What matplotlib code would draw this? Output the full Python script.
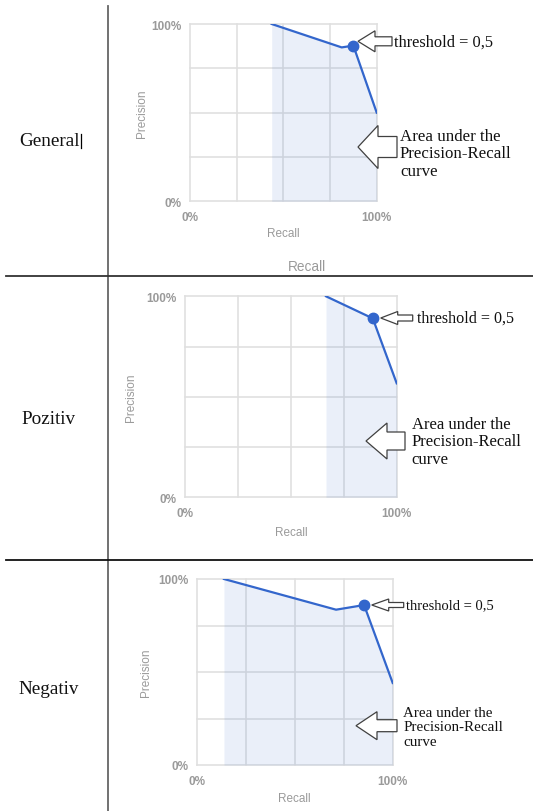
import matplotlib
matplotlib.use('Agg')
import matplotlib.pyplot as plt
from matplotlib.patches import Polygon

W, H = 533, 812

# precision-recall curves
row_labels = ['General', 'Pozitiv', 'Negativ']
general_recall = [0.4375, 0.8125, 0.875, 1.0]
general_precision = [1.0, 0.868, 0.878, 0.5]
pozitiv_recall = [0.666, 0.887, 1.0]
pozitiv_precision = [1.0, 0.89, 0.567]
negativ_recall = [0.139, 0.711, 0.854, 1.0]
negativ_precision = [1.0, 0.835, 0.860, 0.441]
threshold_index = [2, 1, 2]
tick_labels = ['0%', '', '', '', '100%']
threshold_text = 'threshold = 0,5'
area_text = 'Area under the\nPrecision-Recall\ncurve'

curves = [(general_recall, general_precision),
          (pozitiv_recall, pozitiv_precision),
          (negativ_recall, negativ_precision)]

# pixel layout: axes box (left, top, right, bottom)
boxes = [(190, 25, 376.7, 202.3), (185, 297.3, 396.7, 498.3), (196.7, 580, 392.7, 766)]
ylabel_x = [142, 130.7, 146]
xlabel_y = [234, 533, 799]
label_y = [141.7, 420, 690]
label_x = [19, 21.7, 18.3]
# block arrows: tip x, y, total length, head length, head height, shaft height
thr_arrows = [(358, 42.3, 34, 17, 21, 9), (380.7, 319, 32, 17, 13, 6), (371.7, 606, 32, 17, 12, 5)]
area_arrows = [(358, 148, 39, 20, 43, 21), (366, 442, 39, 21, 36, 18), (356, 726.7, 41, 21, 28, 12)]
thr_text_pos = [(394, 42.3, 11.8), (416.7, 319, 11.6), (406, 606, 10.5)]
area_text_pos = [(400, 154.5, 12.2, 1.15), (411.7, 442.5, 12.0, 1.15), (403.3, 728, 10.8, 1.17)]

serif = ['Liberation Serif', 'DejaVu Serif']
sans = ['Liberation Sans', 'DejaVu Sans']
gray = '#9a9a9a'
blue = '#3366cc'

fig = plt.figure(figsize=(W / 100, H / 100), dpi=100)

for i, (rec, prec) in enumerate(curves):
    l, t, r, b = boxes[i]
    ax = fig.add_axes([l / W, 1 - b / H, (r - l) / W, (b - t) / H])
    ax.set_xlim(0, 1)
    ax.set_ylim(0, 1)
    for s in ax.spines.values():
        s.set_visible(False)
    ax.set_xticks([0, 0.25, 0.5, 0.75, 1])
    ax.set_yticks([0, 0.25, 0.5, 0.75, 1])
    ax.set_xticklabels(tick_labels, family=sans, fontsize=8.5, color=gray, fontweight='bold')
    ax.set_yticklabels(tick_labels, family=sans, fontsize=8.5, color=gray, fontweight='bold')
    ax.tick_params(length=0, pad=6)
    ax.tick_params(axis='x', pad=7)
    ax.set_axisbelow(True)
    ax.grid(True, color='#e0e0e0', lw=1.2, clip_on=False)
    for gl in ax.get_xgridlines() + ax.get_ygridlines():
        gl.set_clip_on(False)
    ax.fill_between(rec, prec, 0, color=blue, alpha=0.1, lw=0, zorder=1)
    ax.plot(rec, prec, color=blue, lw=1.6, zorder=3)
    k = threshold_index[i]
    ax.plot(rec[k], prec[k], 'o', color=blue, ms=7.5, zorder=4, clip_on=False)
    ax.set_xlabel('Recall', family=sans, fontsize=8.5, color=gray)
    ax.xaxis.set_label_coords(((l + r) / 2 - l) / (r - l), -(xlabel_y[i] - b) / (b - t))
    ax.xaxis.label.set_va('center')
    ax.set_ylabel('Precision', family=sans, fontsize=8.5, color=gray)
    ax.yaxis.set_label_coords(-(l - ylabel_x[i]) / (r - l), 0.5)
    ax.yaxis.label.set_va('center')

# overlay in pixel coords for the table and annotation shapes
ov = fig.add_axes([0, 0, 1, 1], zorder=10)
ov.set_xlim(0, W)
ov.set_ylim(H, 0)
ov.axis('off')

ov.plot([107.7, 107.7], [7, H], color='#666666', lw=1.3)
ov.plot([6, W], [276.7, 276.7], color='#333333', lw=1.3)
ov.plot([6, W], [561.3, 561.3], color='#111111', lw=1.3)

for i, lab in enumerate(row_labels):
    ov.text(label_x[i], label_y[i], lab, family=serif, fontsize=13.8, color='#111111',
            ha='left', va='center')
ov.plot([80.5, 80.5], [135, 149], color='black', lw=0.9)

ov.text(306.7, 267, 'Recall', family=sans, fontsize=9.8, color=gray, ha='center', va='center')


def block_arrow(x, y, length, head_len, head_h, shaft_h):
    pts = [(x, y), (x + head_len, y - head_h / 2), (x + head_len, y - shaft_h / 2),
           (x + length, y - shaft_h / 2), (x + length, y + shaft_h / 2),
           (x + head_len, y + shaft_h / 2), (x + head_len, y + head_h / 2)]
    ov.add_patch(Polygon(pts, closed=True, facecolor='white', edgecolor='#404040', lw=0.9))


for i in range(3):
    block_arrow(*thr_arrows[i])
    block_arrow(*area_arrows[i])
    tx, ty, fs = thr_text_pos[i]
    ov.text(tx, ty, threshold_text, family=serif, fontsize=fs, color='#111111',
            ha='left', va='center')
    ax_, ay_, fs2, ls = area_text_pos[i]
    ov.text(ax_, ay_, area_text, family=serif, fontsize=fs2, color='#111111',
            ha='left', va='center', linespacing=ls)

fig.savefig('out.png', dpi=100)
